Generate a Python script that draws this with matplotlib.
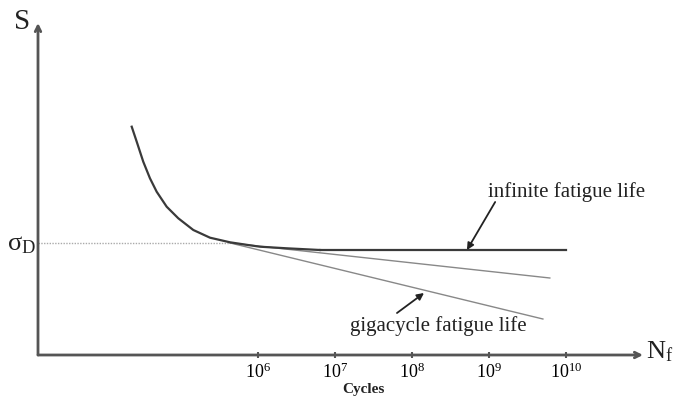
import matplotlib.pyplot as plt
import numpy as np

plt.rcParams['font.family'] = ['Liberation Serif', 'DejaVu Serif']
plt.rcParams['mathtext.fontset'] = 'stix'

# S-N curve (x as log10 of cycles, S in arbitrary units)
curve_lg = [4.360, 4.425, 4.510, 4.597, 4.684, 4.814, 4.965, 5.160, 5.377, 5.636,
            5.870, 6.026, 6.373, 6.805]
curve_s = [228.3, 213.3, 193.3, 176.7, 163.3, 148.3, 136.7, 125.0, 117.3, 112.7,
           110.0, 108.3, 106.7, 105.0]

sigma_d = 112
endurance_lg = [6.805, 10.0]
endurance_s = [105, 105]

giga_upper_lg = [5.64, 9.79]
giga_upper_s = [112, 77]
giga_lower_lg = [5.64, 9.70]
giga_lower_s = [112, 36]

tick_exp = [6, 7, 8, 9, 10]

fig = plt.figure(figsize=(6.76, 4.0), dpi=100)
ax = fig.add_axes([38 / 676, 45 / 400, 605 / 676, 332 / 400])
ax.set_xscale('log')
ax.set_xlim(10 ** 3.143, 10 ** 11.0)
ax.set_ylim(0, 332)

axis_col = '#555555'
for sp in ax.spines.values():
    sp.set_visible(False)

# axes with arrow heads
ax.annotate('', xy=(0, 1), xytext=(0, 0), xycoords='axes fraction',
            arrowprops=dict(arrowstyle='->', color=axis_col, lw=2, shrinkA=0, shrinkB=0))
ax.annotate('', xy=(1, 0), xytext=(0, 0), xycoords='axes fraction',
            arrowprops=dict(arrowstyle='->', color=axis_col, lw=2, shrinkA=0, shrinkB=0))

# fatigue limit
ax.plot([10 ** 3.143, 10 ** 5.64], [sigma_d, sigma_d], color='#aaaaaa', lw=1, ls=(0, (1, 1)))

ax.plot(10 ** np.array(giga_upper_lg), giga_upper_s, color='#888888', lw=1)
ax.plot(10 ** np.array(giga_lower_lg), giga_lower_s, color='#888888', lw=1)
ax.plot(10 ** np.array(curve_lg), curve_s, color='#3a3a3a', lw=1.6,
        solid_joinstyle='round')
ax.plot(10 ** np.array(endurance_lg), endurance_s, color='#3a3a3a', lw=1.6)

ax.set_xticks([10.0 ** e for e in tick_exp])
ax.set_xticklabels([f'$\\mathregular{{10^{{{e}}}}}$' for e in tick_exp], fontsize=13)
ax.minorticks_off()
ax.tick_params(axis='x', direction='inout', length=5, width=1.5, color=axis_col, pad=3)
ax.set_yticks([])

# annotations
ax.annotate('', xy=(10 ** 8.714, 105), xytext=(10 ** 9.08, 153),
            arrowprops=dict(arrowstyle='-|>', color='#222222', lw=1.3, mutation_scale=10,
                            shrinkA=0, shrinkB=0))
ax.text(10 ** 10.01, 163, 'infinite fatigue life', fontsize=15, ha='center', va='center',
        color='#222222')
ax.annotate('', xy=(10 ** 8.156, 62), xytext=(10 ** 7.805, 42),
            arrowprops=dict(arrowstyle='-|>', color='#222222', lw=1.3, mutation_scale=10,
                            shrinkA=0, shrinkB=0))
ax.text(10 ** 8.338, 29, 'gigacycle fatigue life', fontsize=15, ha='center', va='center',
        color='#222222')

fig.text(22 / 676, 1 - 22 / 400, 'S', fontsize=21, ha='center', va='center', color='#222222')
fig.text(22 / 676, 1 - 245 / 400, r'$\mathregular{\sigma_D}$', fontsize=19, ha='center',
         va='center', color='#222222')
fig.text(646 / 676, 1 - 352 / 400, r'$\mathregular{N_f}$', fontsize=19, ha='left',
         va='center', color='#222222')
fig.text(363 / 676, 1 - 390 / 400, 'Cycles', fontsize=11, fontweight='bold', ha='center',
         va='center', color='#222222')

fig.savefig('out.png', dpi=100)
